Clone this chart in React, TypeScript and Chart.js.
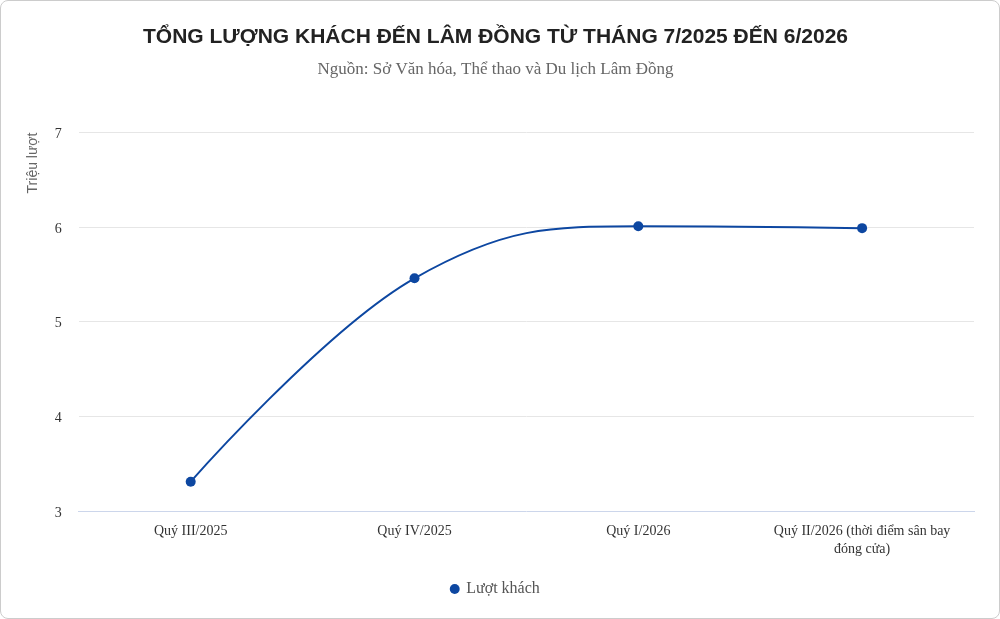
import React, { useEffect, useRef } from "react";
import { Chart, registerables } from "chart.js";

Chart.register(...registerables);

const categories: (string | string[])[] = [
  "Quý III/2025",
  "Quý IV/2025",
  "Quý I/2026",
  ["Quý II/2026 (thời điểm sân bay", "đóng cửa)"],
];
const visitors = [3.31, 5.46, 6.01, 5.99];
const seriesName = "Lượt khách";
const titleText = "TỔNG LƯỢNG KHÁCH ĐẾN LÂM ĐỒNG TỪ THÁNG 7/2025 ĐẾN 6/2026";
const subtitleText = "Nguồn: Sở Văn hóa, Thể thao và Du lịch Lâm Đồng";
const yAxisTitle = "Triệu lượt";
const yMin = 3;
const yMax = 7;

const BLUE = "#0d47a1";
const SERIF = "'Liberation Serif', 'DejaVu Serif', serif";
const SANS = "'Liberation Sans', Arial, sans-serif";

// Spline smoothing in the style of the original chart (control points on a line through each point,
// clamped so no false extremes appear between neighbouring points).
const splinePlugin = {
  id: "splineSmoothing",
  beforeDatasetDraw(chart: any, args: any) {
    const meta = chart.getDatasetMeta(args.index);
    const line: any = meta.dataset;
    if (!line) return;
    line.updateControlPoints(chart.chartArea, meta.indexAxis || "x");
    const pts: any[] = meta.data as any[];
    const smoothing = 1.5;
    const denom = smoothing + 1;
    for (const p of pts) {
      p.cp1x = p.x;
      p.cp1y = p.y;
      p.cp2x = p.x;
      p.cp2y = p.y;
    }
    for (let i = 1; i < pts.length - 1; i++) {
      const last = pts[i - 1];
      const cur = pts[i];
      const next = pts[i + 1];
      const leftX = (smoothing * cur.x + last.x) / denom;
      let leftY = (smoothing * cur.y + last.y) / denom;
      const rightX = (smoothing * cur.x + next.x) / denom;
      let rightY = (smoothing * cur.y + next.y) / denom;
      let correction = 0;
      if (rightX !== leftX) {
        correction = ((rightY - leftY) * (rightX - cur.x)) / (rightX - leftX) + cur.y - rightY;
      }
      leftY += correction;
      rightY += correction;
      if (leftY > last.y && leftY > cur.y) {
        leftY = Math.max(last.y, cur.y);
        rightY = 2 * cur.y - leftY;
      } else if (leftY < last.y && leftY < cur.y) {
        leftY = Math.min(last.y, cur.y);
        rightY = 2 * cur.y - leftY;
      }
      if (rightY > next.y && rightY > cur.y) {
        rightY = Math.max(next.y, cur.y);
        leftY = 2 * cur.y - rightY;
      } else if (rightY < next.y && rightY < cur.y) {
        rightY = Math.min(next.y, cur.y);
        leftY = 2 * cur.y - rightY;
      }
      cur.cp1x = leftX;
      cur.cp1y = leftY;
      cur.cp2x = rightX;
      cur.cp2y = rightY;
    }
  },
};

export default function App() {
  const ref = useRef<HTMLCanvasElement | null>(null);

  useEffect(() => {
    document.body.style.margin = "0";
    const canvas = ref.current;
    if (!canvas) return;
    const chart = new Chart(canvas, {
      type: "line",
      data: {
        labels: categories,
        datasets: [
          {
            label: seriesName,
            data: visitors,
            borderColor: BLUE,
            backgroundColor: BLUE,
            borderWidth: 2,
            pointRadius: 5,
            pointBackgroundColor: BLUE,
            pointBorderWidth: 0,
            tension: 0.4,
            fill: false,
          },
        ],
      },
      plugins: [splinePlugin],
      options: {
        animation: false,
        responsive: false,
        maintainAspectRatio: false,
        devicePixelRatio: 1,
        layout: { padding: { left: 17, right: 26, top: 0, bottom: 12 } },
        plugins: {
          title: {
            display: true,
            text: titleText,
            color: "#222222",
            font: { family: SANS, size: 21, weight: "bold", lineHeight: 1.2 },
            padding: { top: 25, bottom: 0 },
          },
          subtitle: {
            display: true,
            text: subtitleText,
            color: "#666666",
            font: { family: SERIF, size: 17, weight: "normal", lineHeight: 1.2 },
            padding: { top: 9, bottom: 53 },
          },
          legend: {
            position: "bottom",
            labels: {
              usePointStyle: true,
              pointStyle: "circle",
              boxWidth: 7,
              boxHeight: 7,
              color: "#555555",
              font: { family: SERIF, size: 16 },
              padding: 11,
            },
          },
          tooltip: { enabled: false },
        },
        scales: {
          x: {
            offset: true,
            grid: { display: false, drawTicks: false },
            border: { display: true, color: "#ccd6eb", width: 1 },
            ticks: {
              color: "#333333",
              font: { family: SERIF, size: 14, lineHeight: 1.25 },
              padding: 12,
              maxRotation: 0,
              autoSkip: false,
            },
          },
          y: {
            min: yMin,
            max: yMax,
            grid: {
              color: (ctx: any) => (ctx.tick && ctx.tick.value === yMin ? "rgba(0,0,0,0)" : "#e6e6e6"),
              drawTicks: false,
              lineWidth: 1,
            },
            border: { display: false },
            ticks: {
              stepSize: 1,
              color: "#333333",
              font: { family: SERIF, size: 14 },
              padding: 17,
              labelOffset: 2,
            },
            title: {
              display: true,
              text: yAxisTitle,
              align: "end",
              color: "#666666",
              font: { family: SANS, size: 14 },
              padding: { top: 8, bottom: -4 },
            },
          },
        },
      },
    });
    return () => chart.destroy();
  }, []);

  return (
    <div style={{ position: "relative", width: 1000, height: 619, background: "#ffffff" }}>
      <canvas ref={ref} width={1000} height={619} style={{ position: "absolute", left: 0, top: 0, width: 1000, height: 619 }} />
      <div
        style={{
          position: "absolute",
          left: 0,
          top: 0,
          width: 1000,
          height: 619,
          boxSizing: "border-box",
          border: "1px solid #cccccc",
          borderRadius: 8,
          pointerEvents: "none",
        }}
      />
    </div>
  );
}
